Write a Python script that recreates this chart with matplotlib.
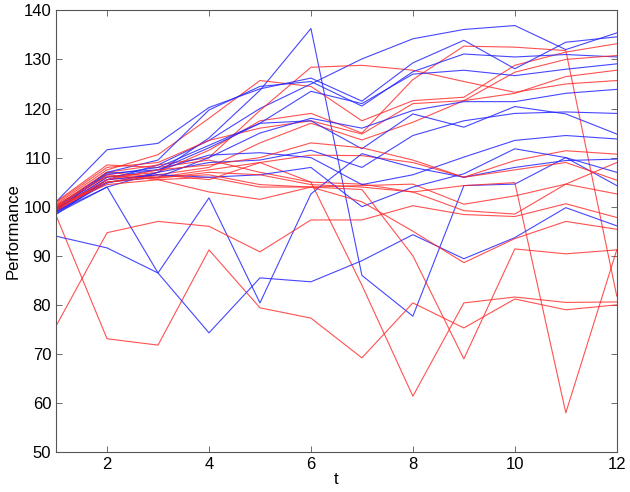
import matplotlib
matplotlib.use("Agg")
import matplotlib.pyplot as plt

t = list(range(1, 13))

# blue group
blue_runs = [
    [99.0, 104.8, 107.0, 114.0, 123.7, 136.3, 86.0, 77.7, 104.3, 104.6, 110.0, 104.3],
    [99.5, 105.5, 108.5, 113.5, 120.0, 125.0, 130.1, 134.2, 136.1, 136.9, 132.0, 135.4],
    [101.0, 111.6, 112.9, 120.2, 124.0, 126.2, 121.5, 129.3, 133.9, 128.1, 133.5, 134.6],
    [99.8, 107.0, 109.5, 119.7, 124.5, 125.5, 120.5, 127.5, 131.1, 130.5, 131.0, 130.5],
    [99.2, 106.0, 107.5, 112.0, 117.0, 123.5, 121.0, 127.0, 127.8, 126.7, 128.0, 129.1],
    [98.8, 105.0, 106.0, 110.0, 115.0, 118.0, 116.0, 119.6, 121.4, 121.4, 123.1, 123.9],
    [99.6, 106.5, 108.0, 112.5, 117.0, 117.5, 111.8, 118.9, 116.2, 120.4, 118.9, 114.8],
    [98.6, 104.0, 107.0, 109.0, 109.5, 111.5, 108.0, 114.5, 117.5, 119.0, 119.3, 119.0],
    [99.3, 106.8, 107.5, 110.5, 111.0, 110.0, 104.5, 106.5, 110.1, 113.5, 114.5, 113.8],
    [98.4, 105.5, 106.5, 106.0, 106.5, 108.0, 100.0, 104.0, 106.7, 111.8, 110.0, 107.0],
    [99.0, 104.0, 86.5, 101.8, 80.4, 102.6, 110.8, 108.0, 106.0, 108.0, 109.4, 109.7],
    [94.0, 91.6, 86.5, 74.3, 85.5, 84.7, 89.0, 94.3, 89.4, 93.7, 99.8, 96.1],
]

# red group
red_runs = [
    [100.5, 107.5, 110.6, 118.0, 125.7, 124.5, 117.5, 121.6, 122.3, 128.8, 131.5, 133.2],
    [100.0, 107.0, 108.5, 110.0, 119.6, 128.4, 128.8, 127.8, 125.5, 123.3, 125.0, 125.7],
    [99.5, 106.0, 107.0, 111.5, 117.5, 119.0, 115.0, 125.9, 132.7, 132.5, 131.8, 81.8],
    [100.8, 108.0, 109.0, 113.5, 116.0, 117.5, 114.8, 121.0, 121.6, 127.4, 130.0, 130.8],
    [99.0, 105.5, 106.5, 108.0, 113.0, 117.0, 113.6, 117.2, 121.6, 123.1, 126.5, 127.8],
    [101.0, 108.5, 108.0, 109.5, 107.0, 105.0, 104.6, 103.0, 104.3, 104.9, 58.0, 91.2],
    [100.2, 107.0, 106.0, 107.5, 109.0, 110.5, 110.4, 109.0, 106.0, 109.4, 111.4, 110.7],
    [99.7, 106.5, 105.5, 106.0, 104.0, 104.0, 104.3, 104.6, 100.5, 102.2, 104.6, 109.0],
    [100.0, 105.0, 106.5, 105.5, 109.0, 105.0, 84.0, 61.4, 80.4, 81.6, 80.5, 80.6],
    [98.2, 73.1, 71.8, 91.2, 79.4, 77.3, 69.2, 80.4, 75.3, 81.2, 79.0, 80.0],
    [75.7, 94.7, 97.0, 96.0, 90.8, 97.3, 97.3, 100.2, 98.4, 98.0, 100.6, 97.8],
    [99.3, 105.0, 106.0, 106.5, 104.5, 104.0, 103.5, 90.0, 69.0, 91.4, 90.4, 91.2],
    [100.0, 104.5, 105.5, 103.0, 101.5, 104.0, 101.0, 95.0, 88.6, 93.5, 97.0, 95.4],
    [99.5, 105.5, 107.5, 108.5, 110.0, 113.0, 112.0, 109.5, 106.0, 107.5, 109.0, 105.4],
    [100.3, 106.2, 105.8, 107.0, 106.5, 104.5, 104.0, 103.0, 99.2, 98.5, 104.6, 102.6],
]

plt.rcParams["font.family"] = ["Liberation Sans", "DejaVu Sans"]

fig = plt.figure(figsize=(6.3, 4.92), dpi=100)
ax = fig.add_axes([0.089, 0.081, 0.890, 0.898])

n = max(len(blue_runs), len(red_runs))
for i in range(n):
    if i < len(blue_runs):
        ax.plot(t, blue_runs[i], color=(0.15, 0.15, 1.0), lw=0.8, alpha=0.85)
    if i < len(red_runs):
        ax.plot(t, red_runs[i], color=(1.0, 0.15, 0.15), lw=0.8, alpha=0.8)

ax.set_xlim(1, 12)
ax.set_ylim(50, 140)
ax.set_xticks(range(2, 13, 2))
ax.set_yticks(range(50, 141, 10))
ax.tick_params(direction="in", top=True, right=True, labelsize=12, length=4,
               width=0.6, color="#555555")
for s in ax.spines.values():
    s.set_linewidth(0.8)
    s.set_color("#555555")
ax.set_xlabel("t", fontsize=12, labelpad=0)
ax.set_ylabel("Performance", fontsize=12, labelpad=2)

fig.savefig("out.png", dpi=100)
